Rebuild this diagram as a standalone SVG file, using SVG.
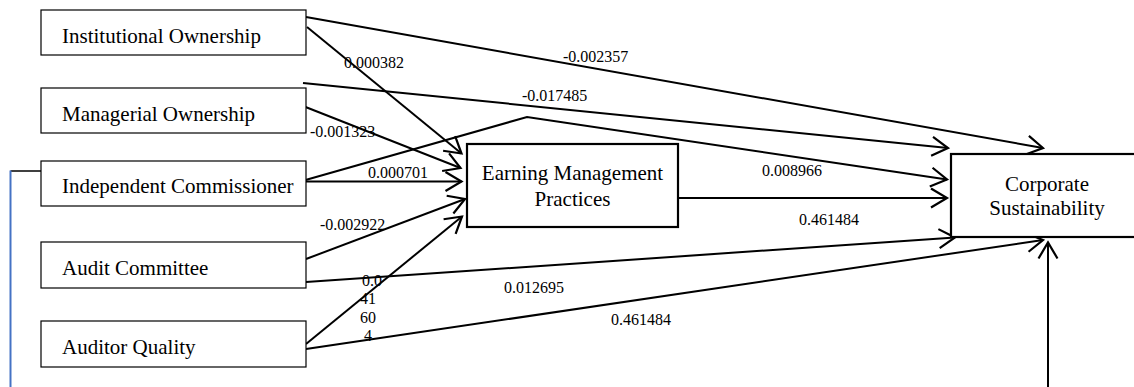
<svg xmlns="http://www.w3.org/2000/svg" width="1134" height="387" viewBox="0 0 1134 387" font-family="'Liberation Serif', 'DejaVu Serif', serif">
<style>
  .box { fill: #fff; stroke: #000; stroke-width: 1.2; }
  .bigbox { fill: #fff; stroke: #000; stroke-width: 2.2; }
  text { font-family: 'Liberation Serif', 'DejaVu Serif', serif; fill: #000; }
  .nt { font-size: 21px; }
  .lbl { font-size: 16px; }
  .ca { fill: none; stroke: #000; stroke-width: 2; marker-end: url(#arr); }
</style>
<defs>
  <marker id="arr" markerUnits="userSpaceOnUse" markerWidth="22" markerHeight="26" viewBox="-19 -13 22 26" refX="0" refY="0" orient="auto" overflow="visible">
    <path d="M-16,-9.5 L0,0 L-16,9.5" fill="none" stroke="#000" stroke-width="2.2"/>
  </marker>
</defs>
<rect width="1134" height="387" fill="#fff"/>

<g id="connectors">
  <line class="ca" x1="306" y1="17" x2="1043" y2="148"/>
  <line class="ca" x1="307" y1="27" x2="461.5" y2="153.5"/>
  <line class="ca" x1="303" y1="83" x2="948" y2="148"/>
  <line class="ca" x1="303" y1="106" x2="460.5" y2="168"/>
  <line class="ca" x1="302" y1="181.5" x2="461.5" y2="181.5"/>
  <polyline class="ca" points="302,181 527,117 947,179.5" stroke-width="1.6"/>
  <line class="ca" x1="678" y1="198" x2="947" y2="198"/>
  <line class="ca" x1="306" y1="259" x2="465" y2="199"/>
  <line class="ca" x1="306" y1="282" x2="955" y2="237.5"/>
  <line class="ca" x1="306" y1="344" x2="462" y2="216.5"/>
  <line class="ca" x1="306" y1="349" x2="1043" y2="240"/>
  <line class="ca" x1="1048" y1="387" x2="1048" y2="242.5"/>
  <line x1="10.5" y1="171" x2="41" y2="171" stroke="#000" stroke-width="1.5"/>
  <line x1="10.5" y1="170.5" x2="10.5" y2="387" stroke="#4472C4" stroke-width="2"/>
</g>

<g id="labels">
  <text class="lbl" x="563" y="62">-0.002357</text>
  <text class="lbl" x="344" y="68">0.000382</text>
  <text class="lbl" x="522" y="101">-0.017485</text>
  <text class="lbl" x="310" y="137">-0.001323</text>
  <text class="lbl" x="368" y="178">0.000701</text>
  <text class="lbl" x="762" y="175.5">0.008966</text>
  <text class="lbl" x="799" y="225">0.461484</text>
  <text class="lbl" x="320" y="229.5">-0.002922</text>
  <text class="lbl" x="504" y="292.5">0.012695</text>
  <text class="lbl" x="611" y="325">0.461484</text>
  <text class="lbl" x="372" y="285.5" text-anchor="middle">0.0</text>
  <text class="lbl" x="368" y="304" text-anchor="middle">41</text>
  <text class="lbl" x="368" y="322.5" text-anchor="middle">60</text>
  <text class="lbl" x="368" y="340.5" text-anchor="middle">4</text>
</g>

<g id="node-institutional">
  <rect class="box" x="41" y="10" width="265" height="45"/>
  <text class="nt" x="62" y="42.5">Institutional Ownership</text>
</g>
<g id="node-managerial">
  <rect class="box" x="41" y="88" width="265" height="45"/>
  <text class="nt" x="62" y="120.5">Managerial Ownership</text>
</g>
<g id="node-independent">
  <rect class="box" x="41" y="161" width="265" height="45"/>
  <text class="nt" x="62" y="192.5">Independent Commissioner</text>
</g>
<g id="node-audit-committee">
  <rect class="box" x="41" y="242" width="265" height="46"/>
  <text class="nt" x="62" y="275">Audit Committee</text>
</g>
<g id="node-auditor-quality">
  <rect class="box" x="41" y="321" width="265" height="46"/>
  <text class="nt" x="62" y="354">Auditor Quality</text>
</g>
<g id="node-earning-management">
  <rect class="bigbox" x="467" y="144" width="211" height="83"/>
  <text class="nt" x="572.5" y="180" text-anchor="middle">Earning Management</text>
  <text class="nt" x="572.5" y="205.5" text-anchor="middle">Practices</text>
</g>
<g id="node-corporate-sustainability">
  <rect class="bigbox" x="951" y="154" width="200" height="83"/>
  <text class="nt" x="1047" y="191" text-anchor="middle">Corporate</text>
  <text class="nt" x="1047" y="215" text-anchor="middle">Sustainability</text>
</g>
</svg>
